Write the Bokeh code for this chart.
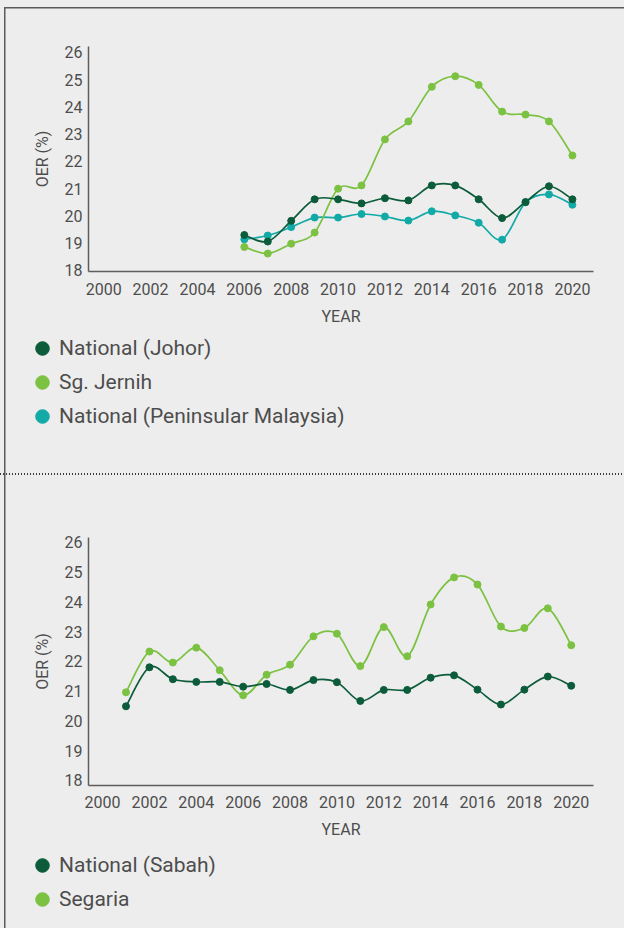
from bokeh.plotting import figure
from bokeh.models import FixedTicker, Legend, LegendItem
from bokeh.layouts import column
from bokeh.embed import file_html
from bokeh.resources import INLINE

# ---------------- data ----------------
years_top = list(range(2006, 2021))
johor = [19.30, 19.06, 19.82, 20.61, 20.61, 20.46, 20.65, 20.57, 21.12, 21.12,
         20.61, 19.92, 20.51, 21.09, 20.61]
jernih = [18.86, 18.62, 18.98, 19.39, 21.00, 21.12, 22.81, 23.47, 24.74, 25.13,
          24.81, 23.83, 23.72, 23.47, 22.22]
peninsular = [19.14, 19.28, 19.59, 19.94, 19.94, 20.07, 19.98, 19.83, 20.17, 20.02,
              19.75, 19.13, 20.50, 20.79, 20.41]

years_bottom = list(range(2001, 2021))
sabah = [20.49, 21.80, 21.40, 21.31, 21.31, 21.15, 21.24, 21.04, 21.37, 21.30,
         20.67, 21.04, 21.04, 21.45, 21.53, 21.05, 20.55, 21.05, 21.49, 21.18]
segaria = [20.96, 22.33, 21.96, 22.46, 21.70, 20.86, 21.55, 21.89, 22.84, 22.93,
           21.84, 23.15, 22.17, 23.91, 24.82, 24.58, 23.17, 23.12, 23.78, 22.54]

x_ticks = list(range(2000, 2021, 2))
y_ticks = list(range(18, 27))

top_names = ["National (Johor)", "Sg. Jernih", "National (Peninsular Malaysia)"]
bottom_names = ["National (Sabah)", "Segaria"]

DARK = "#0c5c3b"
LIGHT = "#7cc242"
TEAL = "#12aaa7"
TXT = "#4d4d4d"
AXIS = "#5e5e5e"
FONT = "Roboto"
W = 624


def smooth(xs, ys):
    """Catmull-Rom -> cubic bezier segments (Excel-like smoothed line)."""
    n = len(xs)
    out = {k: [] for k in ("x0", "y0", "x1", "y1", "cx0", "cy0", "cx1", "cy1")}
    for i in range(n - 1):
        a = max(i - 1, 0)
        d = min(i + 2, n - 1)
        out["x0"].append(xs[i]); out["y0"].append(ys[i])
        out["x1"].append(xs[i + 1]); out["y1"].append(ys[i + 1])
        out["cx0"].append(xs[i] + (xs[i + 1] - xs[a]) / 6.0)
        out["cy0"].append(ys[i] + (ys[i + 1] - ys[a]) / 6.0)
        out["cx1"].append(xs[i + 1] - (xs[d] - xs[i]) / 6.0)
        out["cy1"].append(ys[i + 1] - (ys[d] - ys[i]) / 6.0)
    return out


def make_chart(height, box, xb, yb, series, order, legend_xy, tick_standoff):
    """box = (left, right, top, bottom) pixel position of the axes inside the figure;
    xb / yb = data values at the axis ends."""
    left, right, top, bottom = box
    kx = (right - left) / (xb[1] - xb[0])
    ky = (bottom - top) / (yb[1] - yb[0])
    x_rng = (xb[0] - left / kx, xb[1] + (W - right) / kx)
    y_rng = (yb[0] - (height - bottom) / ky, yb[1] + top / ky)

    p = figure(width=W, height=height, x_range=x_rng, y_range=y_rng,
               output_backend="svg", toolbar_location=None,
               min_border=0, min_border_left=0, min_border_right=0,
               min_border_top=0, min_border_bottom=0)
    p.background_fill_color = None
    p.border_fill_color = None
    p.outline_line_color = None
    p.grid.visible = False

    p.xaxis.ticker = FixedTicker(ticks=x_ticks)
    p.yaxis.ticker = FixedTicker(ticks=y_ticks)
    p.xaxis.fixed_location = yb[0]
    p.yaxis.fixed_location = xb[0]
    p.xaxis.bounds = xb
    p.yaxis.bounds = yb
    for ax in (p.xaxis, p.yaxis):
        ax.axis_line_color = AXIS
        ax.axis_line_width = 1.5
        ax.major_tick_line_color = None
        ax.minor_tick_line_color = None
        ax.major_tick_in = 0
        ax.major_tick_out = 0
        ax.minor_tick_in = 0
        ax.minor_tick_out = 0
        ax.major_label_text_font = FONT
        ax.major_label_text_font_size = "16px"
        ax.major_label_text_color = TXT
        ax.axis_label_text_font = FONT
        ax.axis_label_text_font_size = "16px"
        ax.axis_label_text_font_style = "normal"
        ax.axis_label_text_color = TXT
    p.xaxis.axis_label = "YEAR"
    p.yaxis.axis_label = "OER (%)"
    p.xaxis.major_label_standoff = tick_standoff
    p.xaxis.axis_label_standoff = 9
    p.yaxis.major_label_standoff = 6
    p.yaxis.axis_label_standoff = 10

    rend = {}
    for name, xs, ys, color in series:
        b = smooth(xs, ys)
        p.bezier(x0=b["x0"], y0=b["y0"], x1=b["x1"], y1=b["y1"],
                 cx0=b["cx0"], cy0=b["cy0"], cx1=b["cx1"], cy1=b["cy1"],
                 line_color=color, line_width=1.7)
        rend[name] = p.scatter(xs, ys, size=7, fill_color=color, line_color=color)

    legend = Legend(items=[LegendItem(label=n, renderers=[rend[n]]) for n in order],
                    location=legend_xy, orientation="vertical",
                    glyph_width=34, glyph_height=34, label_standoff=0,
                    padding=0, margin=0, spacing=0,
                    border_line_color=None, background_fill_alpha=0,
                    label_text_font=FONT, label_text_font_size="21px",
                    label_text_color=TXT)
    p.add_layout(legend)
    return p


top_series = [
    (top_names[2], years_top, peninsular, TEAL),
    (top_names[1], years_top, jernih, LIGHT),
    (top_names[0], years_top, johor, DARK),
]
p_top = make_chart(474, (88, 593, 46, 271), (1999.35, 2020.9), (17.96, 26.22),
                   top_series, top_names, (25, 41), 11)

bottom_series = [
    (bottom_names[1], years_bottom, segaria, LIGHT),
    (bottom_names[0], years_bottom, sabah, DARK),
]
p_bot = make_chart(454, (88, 593, 63, 311), (1999.4, 2020.95), (17.83, 26.16),
                   bottom_series, bottom_names, (25, 12), 10)

layout = column(p_top, p_bot, spacing=0,
                styles={
                    "background-color": "#ededed",
                    "background-image": "linear-gradient(#5a5a5a, #5a5a5a), "
                                        "linear-gradient(#5a5a5a, #5a5a5a), "
                                        "linear-gradient(to right, #3a3a3a 0px, #3a3a3a 1.5px, transparent 1.5px)",
                    "background-size": "1.5px 100%, 100% 1.5px, 3px 1.5px",
                    "background-position": "4px 7px, 4px 7px, 0px 473px",
                    "background-repeat": "no-repeat, no-repeat, repeat-x",
                })

open("out.html", "w").write(file_html(layout, INLINE))
